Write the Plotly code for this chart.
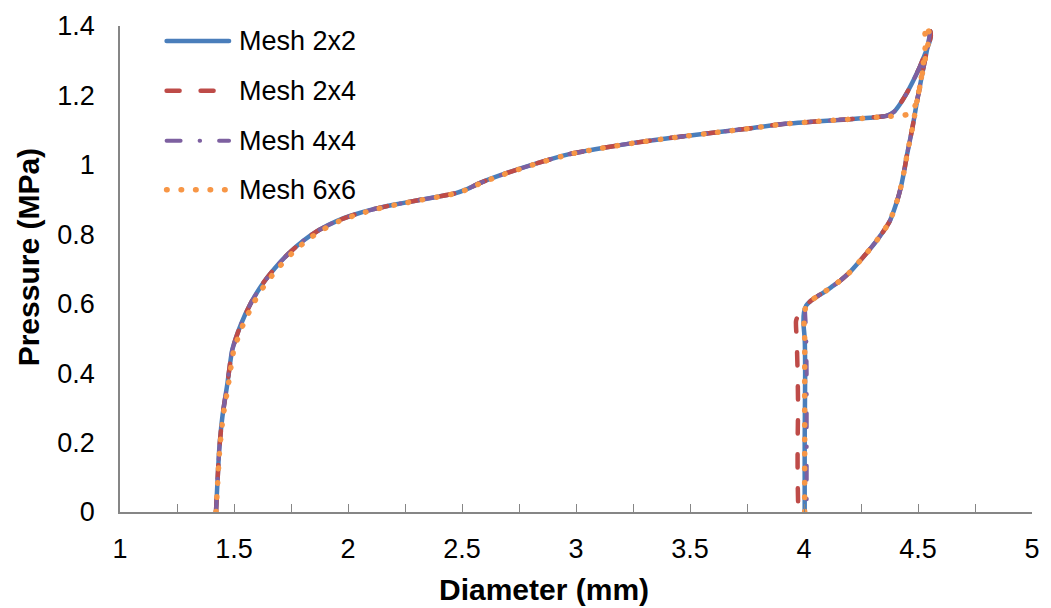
import plotly.graph_objects as go

# Pressure-diameter response for four mesh densities (loading then unloading)

# Loading branch shared by the coarser meshes
LOAD_X = [1.421, 1.427, 1.435, 1.449, 1.471, 1.492, 1.530, 1.575, 1.625, 1.680, 1.740,
          1.805, 1.875, 1.950, 2.030, 2.116, 2.200, 2.290, 2.400, 2.470, 2.522, 2.580,
          2.681, 2.820, 2.971, 3.110, 3.261, 3.430, 3.609, 3.760, 3.899, 4.050, 4.188,
          4.290, 4.362, 4.395, 4.420, 4.450, 4.478, 4.505, 4.528, 4.546, 4.556]
LOAD_Y = [0.000, 0.080, 0.178, 0.274, 0.370, 0.466, 0.540, 0.603, 0.657, 0.703, 0.745,
          0.782, 0.813, 0.838, 0.857, 0.873, 0.885, 0.896, 0.909, 0.918, 0.930, 0.948,
          0.973, 1.003, 1.031, 1.048, 1.064, 1.079, 1.093, 1.105, 1.117, 1.125, 1.131,
          1.136, 1.141, 1.153, 1.174, 1.206, 1.241, 1.278, 1.315, 1.345, 1.370]

# Unloading branch from peak pressure down to the knee near 0.6 MPa
UNLOAD_X = [4.555, 4.545, 4.530, 4.518, 4.507, 4.496, 4.486, 4.475, 4.464, 4.452, 4.442,
            4.428, 4.413, 4.395, 4.377, 4.350, 4.319, 4.280, 4.246, 4.200, 4.160, 4.120,
            4.087, 4.055, 4.029, 4.010]
UNLOAD_Y = [1.385, 1.350, 1.300, 1.260, 1.222, 1.185, 1.146, 1.105, 1.069, 1.030, 0.992,
            0.945, 0.906, 0.870, 0.839, 0.810, 0.782, 0.750, 0.724, 0.690, 0.667, 0.648,
            0.633, 0.620, 0.608, 0.595]

# Final vertical drop to zero pressure, per mesh
TAIL_2X2_X = [4.000, 3.998, 4.003, 4.005, 4.004, 4.003, 4.003, 4.003]
TAIL_2X2_Y = [0.575, 0.540, 0.500, 0.400, 0.300, 0.200, 0.100, 0.000]
TAIL_2X4_X = [3.980, 3.965, 3.968, 3.972, 3.974, 3.972, 3.972, 3.975]
TAIL_2X4_Y = [0.575, 0.550, 0.500, 0.400, 0.300, 0.200, 0.100, 0.000]
TAIL_4X4_X = [4.005, 4.008, 4.010, 4.012, 4.012, 4.012, 4.012]
TAIL_4X4_Y = [0.580, 0.540, 0.500, 0.400, 0.300, 0.150, 0.000]

# Mesh 6x6 follows a slightly softer path near the knee and a later upturn
MESH_6X6_X = [1.421, 1.428, 1.437, 1.452, 1.476, 1.499, 1.540, 1.587, 1.638, 1.694, 1.754,
              1.819, 1.888, 1.962, 2.041, 2.126, 2.209, 2.298, 2.406, 2.475, 2.526, 2.584,
              2.685, 2.824, 2.975, 3.114, 3.265, 3.434, 3.613, 3.764, 3.903, 4.054, 4.192,
              4.300, 4.380, 4.440, 4.470, 4.487, 4.500, 4.513, 4.524, 4.533, 4.530,
              4.558, 4.545, 4.530, 4.518, 4.507, 4.496, 4.486, 4.475, 4.464, 4.452, 4.442,
              4.428, 4.413, 4.395, 4.377, 4.350, 4.319, 4.280, 4.246, 4.200, 4.160, 4.120,
              4.087, 4.055, 4.029, 4.010, 4.002, 4.000, 4.003, 4.003, 4.003, 4.003, 4.003]
MESH_6X6_Y = [0.000, 0.080, 0.178, 0.274, 0.370, 0.466, 0.540, 0.603, 0.657, 0.703, 0.745,
              0.782, 0.813, 0.838, 0.857, 0.873, 0.885, 0.896, 0.909, 0.918, 0.930, 0.948,
              0.973, 1.003, 1.031, 1.048, 1.064, 1.079, 1.093, 1.105, 1.117, 1.125, 1.131,
              1.136, 1.140, 1.143, 1.150, 1.170, 1.200, 1.245, 1.295, 1.350, 1.400,
              1.370, 1.350, 1.300, 1.260, 1.222, 1.185, 1.146, 1.105, 1.069, 1.030, 0.992,
              0.945, 0.906, 0.870, 0.839, 0.810, 0.782, 0.750, 0.724, 0.690, 0.667, 0.648,
              0.633, 0.620, 0.608, 0.595, 0.575, 0.540, 0.500, 0.350, 0.200, 0.100, 0.000]

SERIES_NAMES = ["Mesh 2x2", "Mesh 2x4", "Mesh 4x4", "Mesh 6x6"]
X_TICKS = [1, 1.5, 2, 2.5, 3, 3.5, 4, 4.5, 5]
Y_TICKS = [0, 0.2, 0.4, 0.6, 0.8, 1.0, 1.2, 1.4]
X_TITLE = "Diameter (mm)"
Y_TITLE = "Pressure (MPa)"

COLORS = ["#4A7EBB", "#BE4B48", "#7D60A0", "#F79646"]
# Dash patterns assume round line caps (set after render below)
DASHES = ["solid", "13px,21px", "14px,19px,0.5px,19px", "0.5px,14px"]
WIDTHS = [4.5, 4.5, 4, 5.5]

series_x = [LOAD_X + UNLOAD_X + TAIL_2X2_X,
            LOAD_X + UNLOAD_X + TAIL_2X4_X,
            LOAD_X + UNLOAD_X + TAIL_4X4_X,
            MESH_6X6_X]
series_y = [LOAD_Y + UNLOAD_Y + TAIL_2X2_Y,
            LOAD_Y + UNLOAD_Y + TAIL_2X4_Y,
            LOAD_Y + UNLOAD_Y + TAIL_4X4_Y,
            MESH_6X6_Y]

FONT = "Liberation Sans, Arial, sans-serif"
TICK_SIZE = 27
LEGEND_SIZE = 27
TITLE_SIZE = 30

fig = go.Figure()
for name, xs, ys, color, dash, width in zip(SERIES_NAMES, series_x, series_y,
                                             COLORS, DASHES, WIDTHS):
    fig.add_trace(go.Scatter(
        x=xs, y=ys, mode="lines", name=name,
        line=dict(color=color, dash=dash, width=width, shape="spline", smoothing=0.5),
        showlegend=False,
    ))

W, H = 1051, 608
plot_l, plot_r, plot_t, plot_b = 120, 1040, 25, 512
pw, ph = plot_r - plot_l, plot_b - plot_t


def px_to_paper(px, py):
    return (px - plot_l) / pw, (plot_b - py) / ph


# Legend drawn as line samples plus labels in the upper-left of the plot area
legend_rows = [40, 90, 140, 189]
for name, color, dash, width, row in zip(SERIES_NAMES, COLORS, DASHES, WIDTHS, legend_rows):
    x0, yp = px_to_paper(167, row)
    x1, _ = px_to_paper(230, row)
    xt, _ = px_to_paper(238, row)
    fig.add_shape(type="line", xref="paper", yref="paper",
                  x0=x0, x1=x1, y0=yp, y1=yp,
                  line=dict(color=color, dash=dash, width=width))
    fig.add_annotation(text=name, xref="paper", yref="paper",
                       x=xt, y=yp, xanchor="left", yanchor="middle",
                       showarrow=False, font=dict(family=FONT, size=LEGEND_SIZE, color="#000000"))

# Axis titles
xt_x, xt_y = px_to_paper(548, 590)
fig.add_annotation(text="<b>%s</b>" % X_TITLE, xref="paper", yref="paper",
                   x=xt_x, y=xt_y, xanchor="center", yanchor="middle", showarrow=False,
                   font=dict(family=FONT, size=TITLE_SIZE, color="#000000"))
yt_x, yt_y = px_to_paper(28, 257)
fig.add_annotation(text="<b>%s</b>" % Y_TITLE, xref="paper", yref="paper",
                   x=yt_x, y=yt_y, xanchor="center", yanchor="middle", showarrow=False,
                   textangle=-90,
                   font=dict(family=FONT, size=TITLE_SIZE, color="#000000"))

fig.update_layout(
    width=W, height=H,
    margin=dict(l=plot_l, r=W - plot_r, t=plot_t, b=H - plot_b),
    paper_bgcolor="white", plot_bgcolor="white",
    font=dict(family=FONT, size=TICK_SIZE, color="#000000"),
)
fig.update_xaxes(
    range=[1, 5], tickvals=X_TICKS, ticks="inside", ticklen=8, tickcolor="#868686",
    minor=dict(dtick=0.25, ticks="inside", ticklen=8, tickcolor="#868686"),
    showline=True, linecolor="#868686", linewidth=1.5, showgrid=False, zeroline=False,
    tickfont=dict(size=TICK_SIZE), ticklabelstandoff=12,
)
fig.update_yaxes(
    range=[0, 1.4], tickvals=Y_TICKS, ticks="", showline=True, linecolor="#868686",
    linewidth=1.5, showgrid=False, zeroline=False, tickfont=dict(size=TICK_SIZE),
    ticklabelstandoff=18,
)

# Round caps give the dotted and dashed series their rounded ends
ROUND_CAPS = """
var gd = document.getElementById('{plot_id}');
function roundCaps() {
  gd.querySelectorAll('path.js-line, .shapelayer path').forEach(function (p) {
    p.style.strokeLinecap = 'round';
  });
}
roundCaps();
gd.on('plotly_afterplot', roundCaps);
"""

fig.write_html("out.html", post_script=ROUND_CAPS)
